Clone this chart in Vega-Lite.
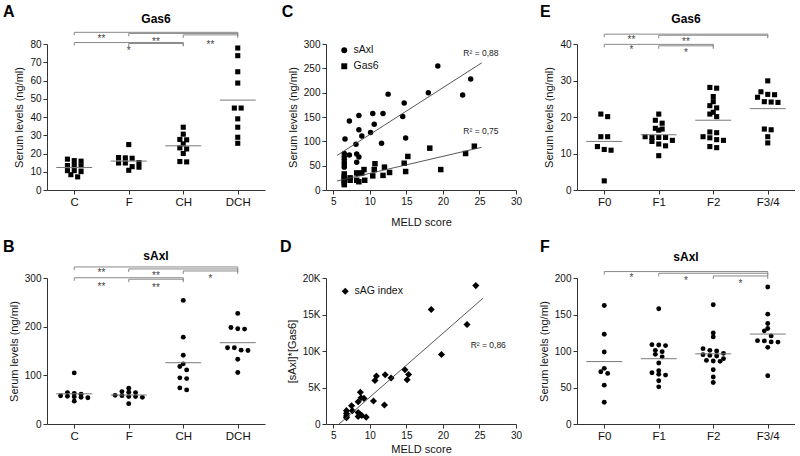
{
  "$schema": "https://vega.github.io/schema/vega-lite/v6.json",
  "autosize": {"type": "pad"},
  "padding": {"left": 3, "top": 3, "right": 0, "bottom": 0},
  "datasets": {
    "gA": [
      {"g": "C", "v": 16.9}, {"g": "C", "v": 16.1}, {"g": "C", "v": 15.8}, {"g": "C", "v": 13.4}, {"g": "C", "v": 13.2}, {"g": "C", "v": 13.4}, {"g": "C", "v": 10.1}, {"g": "C", "v": 10.6}, {"g": "C", "v": 10.6}, {"g": "C", "v": 8.4}, {"g": "C", "v": 7.2},
      {"g": "F", "v": 24.9}, {"g": "F", "v": 17.4}, {"g": "F", "v": 17.6}, {"g": "F", "v": 17.8}, {"g": "F", "v": 14.8}, {"g": "F", "v": 14.8}, {"g": "F", "v": 15.0}, {"g": "F", "v": 12.8}, {"g": "F", "v": 12.5}, {"g": "F", "v": 10.8},
      {"g": "CH", "v": 34.4}, {"g": "CH", "v": 30.6}, {"g": "CH", "v": 27.5}, {"g": "CH", "v": 27.7}, {"g": "CH", "v": 25.3}, {"g": "CH", "v": 22.5}, {"g": "CH", "v": 23.1}, {"g": "CH", "v": 20.0}, {"g": "CH", "v": 15.4}, {"g": "CH", "v": 15.6},
      {"g": "DCH", "v": 77.8}, {"g": "DCH", "v": 73.6}, {"g": "DCH", "v": 64.8}, {"g": "DCH", "v": 58.6}, {"g": "DCH", "v": 44.9}, {"g": "DCH", "v": 44.9}, {"g": "DCH", "v": 39.0}, {"g": "DCH", "v": 34.4}, {"g": "DCH", "v": 28.9}, {"g": "DCH", "v": 25.6}
    ],
    "sB": [
      {"g": "C", "v": 105}, {"g": "C", "v": 64.5}, {"g": "C", "v": 63}, {"g": "C", "v": 61}, {"g": "C", "v": 57}, {"g": "C", "v": 55}, {"g": "C", "v": 54}, {"g": "C", "v": 56}, {"g": "C", "v": 58}, {"g": "C", "v": 47},
      {"g": "F", "v": 73.4}, {"g": "F", "v": 64.5}, {"g": "F", "v": 65.1}, {"g": "F", "v": 66.6}, {"g": "F", "v": 58.3}, {"g": "F", "v": 56.3}, {"g": "F", "v": 54.8}, {"g": "F", "v": 56.3}, {"g": "F", "v": 58.9}, {"g": "F", "v": 41.8},
      {"g": "CH", "v": 254}, {"g": "CH", "v": 178.5}, {"g": "CH", "v": 141.4}, {"g": "CH", "v": 123.6}, {"g": "CH", "v": 118}, {"g": "CH", "v": 111.2}, {"g": "CH", "v": 94.8}, {"g": "CH", "v": 93.3}, {"g": "CH", "v": 74.2}, {"g": "CH", "v": 70.1},
      {"g": "DCH", "v": 227.3}, {"g": "DCH", "v": 195.7}, {"g": "DCH", "v": 195}, {"g": "DCH", "v": 198.4}, {"g": "DCH", "v": 156.6}, {"g": "DCH", "v": 151}, {"g": "DCH", "v": 151.7}, {"g": "DCH", "v": 156.6}, {"g": "DCH", "v": 133.1}, {"g": "DCH", "v": 105.7}
    ],
    "gE": [
      {"g": "F0", "v": 20.8}, {"g": "F0", "v": 20.1}, {"g": "F0", "v": 14.6}, {"g": "F0", "v": 14.6}, {"g": "F0", "v": 11.1}, {"g": "F0", "v": 10.9}, {"g": "F0", "v": 11.9}, {"g": "F0", "v": 2.5},
      {"g": "F1", "v": 20.8}, {"g": "F1", "v": 18.3}, {"g": "F1", "v": 19.1}, {"g": "F1", "v": 16.7}, {"g": "F1", "v": 16.4}, {"g": "F1", "v": 16.9}, {"g": "F1", "v": 13.6}, {"g": "F1", "v": 14.4}, {"g": "F1", "v": 14.4}, {"g": "F1", "v": 14.4}, {"g": "F1", "v": 14.6}, {"g": "F1", "v": 12.6}, {"g": "F1", "v": 12.1}, {"g": "F1", "v": 13.3}, {"g": "F1", "v": 9.4},
      {"g": "F2", "v": 27.9}, {"g": "F2", "v": 28.1}, {"g": "F2", "v": 25.6}, {"g": "F2", "v": 24.2}, {"g": "F2", "v": 22.5}, {"g": "F2", "v": 23.1}, {"g": "F2", "v": 20.8}, {"g": "F2", "v": 20.1}, {"g": "F2", "v": 21.3}, {"g": "F2", "v": 14.6}, {"g": "F2", "v": 13.8}, {"g": "F2", "v": 13.6}, {"g": "F2", "v": 14.3}, {"g": "F2", "v": 15.7}, {"g": "F2", "v": 15.9}, {"g": "F2", "v": 11.6}, {"g": "F2", "v": 11.9},
      {"g": "F3/4", "v": 29.9}, {"g": "F3/4", "v": 26.2}, {"g": "F3/4", "v": 26.1}, {"g": "F3/4", "v": 26.9}, {"g": "F3/4", "v": 24.2}, {"g": "F3/4", "v": 24.1}, {"g": "F3/4", "v": 24.0}, {"g": "F3/4", "v": 25.4}, {"g": "F3/4", "v": 16.7}, {"g": "F3/4", "v": 16.5}, {"g": "F3/4", "v": 14.6}, {"g": "F3/4", "v": 12.9}
    ],
    "sF": [
      {"g": "F0", "v": 162.4}, {"g": "F0", "v": 123}, {"g": "F0", "v": 98.6}, {"g": "F0", "v": 76.2}, {"g": "F0", "v": 69.3}, {"g": "F0", "v": 71.6}, {"g": "F0", "v": 53.2}, {"g": "F0", "v": 29.8},
      {"g": "F1", "v": 157.8}, {"g": "F1", "v": 108.7}, {"g": "F1", "v": 107.4}, {"g": "F1", "v": 108.3}, {"g": "F1", "v": 99.1}, {"g": "F1", "v": 95.4}, {"g": "F1", "v": 100.9}, {"g": "F1", "v": 92}, {"g": "F1", "v": 83.5}, {"g": "F1", "v": 73}, {"g": "F1", "v": 70.2}, {"g": "F1", "v": 67}, {"g": "F1", "v": 68}, {"g": "F1", "v": 59.2}, {"g": "F1", "v": 50.9},
      {"g": "F2", "v": 163.4}, {"g": "F2", "v": 124.8}, {"g": "F2", "v": 119.3}, {"g": "F2", "v": 103.2}, {"g": "F2", "v": 100}, {"g": "F2", "v": 96.8}, {"g": "F2", "v": 100.9}, {"g": "F2", "v": 93.2}, {"g": "F2", "v": 94}, {"g": "F2", "v": 95}, {"g": "F2", "v": 89.5}, {"g": "F2", "v": 87.1}, {"g": "F2", "v": 85.8}, {"g": "F2", "v": 86.3}, {"g": "F2", "v": 74.3}, {"g": "F2", "v": 64.3}, {"g": "F2", "v": 56.8},
      {"g": "F3/4", "v": 187.6}, {"g": "F3/4", "v": 150.5}, {"g": "F3/4", "v": 137.6}, {"g": "F3/4", "v": 130.8}, {"g": "F3/4", "v": 127.6}, {"g": "F3/4", "v": 120.7}, {"g": "F3/4", "v": 113.8}, {"g": "F3/4", "v": 112.2}, {"g": "F3/4", "v": 114.2}, {"g": "F3/4", "v": 112.5}, {"g": "F3/4", "v": 105}, {"g": "F3/4", "v": 66.1}
    ],
    "meld": [
      {"series": "sAxl", "meld": 6.6, "value": 105}, {"series": "sAxl", "meld": 7.2, "value": 142}, {"series": "sAxl", "meld": 8.5, "value": 153}, {"series": "sAxl", "meld": 8.5, "value": 124}, {"series": "sAxl", "meld": 8.9, "value": 111}, {"series": "sAxl", "meld": 8.1, "value": 94}, {"series": "sAxl", "meld": 10.4, "value": 157}, {"series": "sAxl", "meld": 11.8, "value": 157}, {"series": "sAxl", "meld": 10.6, "value": 135}, {"series": "sAxl", "meld": 10.1, "value": 118}, {"series": "sAxl", "meld": 12.5, "value": 197}, {"series": "sAxl", "meld": 14.7, "value": 179}, {"series": "sAxl", "meld": 14.5, "value": 151}, {"series": "sAxl", "meld": 14.9, "value": 107}, {"series": "sAxl", "meld": 11.6, "value": 96}, {"series": "sAxl", "meld": 18.0, "value": 200}, {"series": "sAxl", "meld": 19.3, "value": 255}, {"series": "sAxl", "meld": 22.7, "value": 195}, {"series": "sAxl", "meld": 23.8, "value": 228}, {"series": "sAxl", "meld": 6.5, "value": 75}, {"series": "sAxl", "meld": 6.5, "value": 69}, {"series": "sAxl", "meld": 6.5, "value": 63}, {"series": "sAxl", "meld": 6.5, "value": 57}, {"series": "sAxl", "meld": 6.5, "value": 52}, {"series": "sAxl", "meld": 6.5, "value": 47}, {"series": "sAxl", "meld": 7.2, "value": 72}, {"series": "sAxl", "meld": 8.2, "value": 74}, {"series": "sAxl", "meld": 8.5, "value": 68}, {"series": "sAxl", "meld": 8.2, "value": 57},
      {"series": "Gas6", "meld": 7.3, "value": 25}, {"series": "Gas6", "meld": 7.3, "value": 20}, {"series": "Gas6", "meld": 8.2, "value": 35}, {"series": "Gas6", "meld": 8.5, "value": 34}, {"series": "Gas6", "meld": 8.9, "value": 35}, {"series": "Gas6", "meld": 8.2, "value": 20}, {"series": "Gas6", "meld": 8.5, "value": 17}, {"series": "Gas6", "meld": 9.3, "value": 20}, {"series": "Gas6", "meld": 9.2, "value": 42}, {"series": "Gas6", "meld": 10.7, "value": 54}, {"series": "Gas6", "meld": 10.6, "value": 42}, {"series": "Gas6", "meld": 10.4, "value": 29}, {"series": "Gas6", "meld": 12.0, "value": 47}, {"series": "Gas6", "meld": 11.8, "value": 30}, {"series": "Gas6", "meld": 12.7, "value": 36}, {"series": "Gas6", "meld": 14.7, "value": 55}, {"series": "Gas6", "meld": 15.2, "value": 69}, {"series": "Gas6", "meld": 14.9, "value": 38}, {"series": "Gas6", "meld": 18.2, "value": 86}, {"series": "Gas6", "meld": 19.7, "value": 42}, {"series": "Gas6", "meld": 23.1, "value": 75}, {"series": "Gas6", "meld": 24.3, "value": 90}, {"series": "Gas6", "meld": 6.5, "value": 33}, {"series": "Gas6", "meld": 6.5, "value": 28}, {"series": "Gas6", "meld": 6.5, "value": 24}, {"series": "Gas6", "meld": 6.5, "value": 20}, {"series": "Gas6", "meld": 6.5, "value": 15}, {"series": "Gas6", "meld": 6.5, "value": 11}
    ],
    "sag": [
      {"meld": 24.5, "idx": 18960}, {"meld": 18.4, "idx": 15680}, {"meld": 23.3, "idx": 13620}, {"meld": 19.8, "idx": 9520}, {"meld": 14.8, "idx": 7420}, {"meld": 15.3, "idx": 6780}, {"meld": 15.1, "idx": 6070}, {"meld": 12.1, "idx": 6740}, {"meld": 12.9, "idx": 6290}, {"meld": 10.9, "idx": 6560}, {"meld": 10.7, "idx": 5970}, {"meld": 10.5, "idx": 3140}, {"meld": 12.0, "idx": 2600}, {"meld": 8.7, "idx": 4360}, {"meld": 8.4, "idx": 3050}, {"meld": 9.2, "idx": 3510}, {"meld": 8.8, "idx": 3590}, {"meld": 7.5, "idx": 2510}, {"meld": 6.8, "idx": 1830}, {"meld": 6.8, "idx": 1430}, {"meld": 6.8, "idx": 1080}, {"meld": 6.8, "idx": 850}, {"meld": 7.6, "idx": 1830}, {"meld": 8.4, "idx": 1560}, {"meld": 8.7, "idx": 1290}, {"meld": 8.9, "idx": 1160}, {"meld": 8.4, "idx": 1030}, {"meld": 9.5, "idx": 940}
    ],
    "brA": [{"a": 1, "b": 4, "y": 86.4}, {"a": 2, "b": 4, "y": 85.8}, {"a": 3, "b": 4, "y": 85.0}, {"a": 1, "b": 3, "y": 80.8}, {"a": 2, "b": 3, "y": 80.3}],
    "lbA": [{"x": 1.5, "y": 81.1, "t": "**"}, {"x": 2.5, "y": 79.6, "t": "**"}, {"x": 3.5, "y": 77.8, "t": "**"}, {"x": 2.0, "y": 74.7, "t": "*"}],
    "brB": [{"a": 1, "b": 4, "y": 322.7}, {"a": 2, "b": 4, "y": 318.6}, {"a": 3, "b": 4, "y": 314.5}, {"a": 1, "b": 3, "y": 300.5}, {"a": 2, "b": 3, "y": 297.5}],
    "lbB": [{"x": 1.5, "y": 304.8, "t": "**"}, {"x": 2.5, "y": 298, "t": "**"}, {"x": 3.5, "y": 291, "t": "*"}, {"x": 1.5, "y": 275.3, "t": "**"}, {"x": 2.5, "y": 273.9, "t": "**"}],
    "brE": [{"a": 1, "b": 4, "y": 42.7}, {"a": 2, "b": 4, "y": 42.4}, {"a": 1, "b": 3, "y": 39.9}, {"a": 2, "b": 3, "y": 39.5}],
    "lbE": [{"x": 1.5, "y": 40.4, "t": "**"}, {"x": 2.5, "y": 39.6, "t": "**"}, {"x": 1.5, "y": 37.5, "t": "*"}, {"x": 2.5, "y": 36.8, "t": "*"}],
    "brF": [{"a": 1, "b": 4, "y": 208.8}, {"a": 2, "b": 4, "y": 206.5}, {"a": 3, "b": 4, "y": 202.8}],
    "lbF": [{"x": 1.5, "y": 195.3, "t": "*"}, {"x": 2.5, "y": 192.2, "t": "*"}, {"x": 3.5, "y": 187.6, "t": "*"}],
    "r2C": [{"x": 25.2, "y": 281, "t": "R² = 0,88"}, {"x": 25.2, "y": 121, "t": "R² = 0,75"}],
    "r2D": [{"x": 26.2, "y": 10870, "t": "R² = 0,86"}]
  },
  "concat": [
    {
      "width": 218, "height": 146,
      "layer": [
        {"data": {"name": "gA"},
         "transform": [
           {"calculate": "indexof(['C','F','CH','DCH'], datum.g) + 1", "as": "gi"},
           {"bin": {"step": 3}, "field": "v", "as": "vb"},
           {"window": [{"op": "row_number", "as": "r"}, {"op": "count", "as": "n"}], "groupby": ["gi", "vb"], "sort": [{"field": "v", "order": "descending"}], "frame": [null, null]},
           {"calculate": "datum.gi + (datum.r - (datum.n + 1) / 2) * 0.125", "as": "xp"}
         ],
         "mark": {"type": "square", "size": 26, "color": "#000", "opacity": 1},
         "encoding": {
           "x": {"field": "xp", "type": "quantitative", "scale": {"domain": [0.5, 4.5], "nice": false, "zero": false}, "axis": {"values": [1, 2, 3, 4], "tickCount": 20, "labelExpr": "['C','F','CH','DCH'][datum.value - 1]", "title": null, "labelFontSize": 11.5, "labelOverlap": false}},
           "y": {"field": "v", "type": "quantitative", "scale": {"domain": [0, 80], "nice": false}, "axis": {"values": [0, 10, 20, 30, 40, 50, 60, 70, 80], "tickCount": 20, "labelOverlap": false, "title": "Serum levels (ng/ml)"}}
         }},
        {"data": {"name": "gA"},
         "transform": [
           {"calculate": "indexof(['C','F','CH','DCH'], datum.g) + 1", "as": "gi"},
           {"aggregate": [{"op": "mean", "field": "v", "as": "m"}], "groupby": ["gi"]},
           {"calculate": "datum.gi - 0.33", "as": "xl"},
           {"calculate": "datum.gi + 0.33", "as": "xr"}
         ],
         "mark": {"type": "rule", "color": "#7a7a7a", "strokeWidth": 1},
         "encoding": {"x": {"field": "xl", "type": "quantitative"}, "x2": {"field": "xr"}, "y": {"field": "m", "type": "quantitative"}}},
        {"data": {"name": "brA"}, "mark": {"type": "rule", "color": "#888", "strokeWidth": 1},
         "encoding": {"x": {"field": "a", "type": "quantitative"}, "x2": {"field": "b"}, "y": {"field": "y", "type": "quantitative"}}},
        {"data": {"name": "brA"}, "transform": [{"fold": ["a", "b"], "as": ["k", "xv"]}],
         "mark": {"type": "rule", "color": "#888", "strokeWidth": 1, "y2Offset": 3},
         "encoding": {"x": {"field": "xv", "type": "quantitative"}, "y": {"field": "y", "type": "quantitative"}, "y2": {"field": "y"}}},
        {"data": {"name": "lbA"}, "mark": {"type": "text", "fontSize": 10, "color": "#444", "baseline": "alphabetic"},
         "encoding": {"x": {"field": "x", "type": "quantitative"}, "y": {"field": "y", "type": "quantitative"}, "text": {"field": "t"}}},
        {"data": {"values": [{}]}, "mark": {"type": "text", "fontSize": 16, "fontWeight": "bold", "align": "left", "baseline": "alphabetic"},
         "encoding": {"x": {"datum": -0.307}, "y": {"datum": 95.0}, "text": {"value": "A"}}},
        {"data": {"values": [{}]}, "mark": {"type": "text", "fontSize": 12, "fontWeight": "bold", "baseline": "alphabetic"},
         "encoding": {"x": {"datum": 2.5}, "y": {"datum": 91.5}, "text": {"value": "Gas6"}}}
      ]
    },
    {
      "width": 190, "height": 146,
      "layer": [
        {"data": {"name": "meld"},
         "mark": {"type": "point", "filled": true, "size": 30, "color": "#000", "opacity": 1},
         "encoding": {
           "x": {"field": "meld", "type": "quantitative", "scale": {"domain": [4, 30], "nice": false, "zero": false}, "axis": {"values": [5, 10, 15, 20, 25, 30], "tickCount": 20, "labelOverlap": false, "title": "MELD score", "titlePadding": 10}},
           "y": {"field": "value", "type": "quantitative", "scale": {"domain": [0, 300], "nice": false}, "axis": {"values": [0, 50, 100, 150, 200, 250, 300], "tickCount": 20, "labelOverlap": false, "title": "Serum levels (ng/ml)"}},
           "shape": {"field": "series", "type": "nominal", "scale": {"domain": ["sAxl", "Gas6"], "range": ["circle", "square"]},
                     "legend": {"title": null, "orient": "none", "legendX": 13, "legendY": 1, "labelFontSize": 10.5, "symbolFillColor": "#000", "symbolStrokeColor": "#000", "symbolSize": 35, "rowPadding": 3, "padding": 0}}
         }},
        {"data": {"name": "meld"},
         "transform": [{"regression": "value", "on": "meld", "groupby": ["series"], "extent": [5.5, 25.3]}],
         "mark": {"type": "line", "color": "#444", "strokeWidth": 0.9},
         "encoding": {"x": {"field": "meld", "type": "quantitative"}, "y": {"field": "value", "type": "quantitative"}, "detail": {"field": "series"}}},
        {"data": {"name": "r2C"}, "mark": {"type": "text", "fontSize": 8.5, "color": "#222"},
         "encoding": {"x": {"field": "x", "type": "quantitative"}, "y": {"field": "y", "type": "quantitative"}, "text": {"field": "t"}}},
        {"data": {"values": [{}]}, "mark": {"type": "text", "fontSize": 16, "fontWeight": "bold", "align": "left", "baseline": "alphabetic"},
         "encoding": {"x": {"datum": -2.06}, "y": {"datum": 356.1}, "text": {"value": "C"}}}
      ]
    },
    {
      "width": 218, "height": 146,
      "layer": [
        {"data": {"name": "gE"},
         "transform": [
           {"calculate": "indexof(['F0','F1','F2','F3/4'], datum.g) + 1", "as": "gi"},
           {"bin": {"step": 1.5}, "field": "v", "as": "vb"},
           {"window": [{"op": "row_number", "as": "r"}, {"op": "count", "as": "n"}], "groupby": ["gi", "vb"], "sort": [{"field": "v", "order": "descending"}], "frame": [null, null]},
           {"calculate": "datum.gi + (datum.r - (datum.n + 1) / 2) * 0.125", "as": "xp"}
         ],
         "mark": {"type": "square", "size": 26, "color": "#000", "opacity": 1},
         "encoding": {
           "x": {"field": "xp", "type": "quantitative", "scale": {"domain": [0.5, 4.5], "nice": false, "zero": false}, "axis": {"values": [1, 2, 3, 4], "tickCount": 20, "labelExpr": "['F0','F1','F2','F3/4'][datum.value - 1]", "title": null, "labelFontSize": 11.5, "labelOverlap": false}},
           "y": {"field": "v", "type": "quantitative", "scale": {"domain": [0, 40], "nice": false}, "axis": {"values": [0, 10, 20, 30, 40], "tickCount": 20, "labelOverlap": false, "title": "Serum levels (ng/ml)"}}
         }},
        {"data": {"name": "gE"},
         "transform": [
           {"calculate": "indexof(['F0','F1','F2','F3/4'], datum.g) + 1", "as": "gi"},
           {"aggregate": [{"op": "mean", "field": "v", "as": "m"}], "groupby": ["gi"]},
           {"calculate": "datum.gi - 0.33", "as": "xl"},
           {"calculate": "datum.gi + 0.33", "as": "xr"}
         ],
         "mark": {"type": "rule", "color": "#7a7a7a", "strokeWidth": 1},
         "encoding": {"x": {"field": "xl", "type": "quantitative"}, "x2": {"field": "xr"}, "y": {"field": "m", "type": "quantitative"}}},
        {"data": {"name": "brE"}, "mark": {"type": "rule", "color": "#888", "strokeWidth": 1},
         "encoding": {"x": {"field": "a", "type": "quantitative"}, "x2": {"field": "b"}, "y": {"field": "y", "type": "quantitative"}}},
        {"data": {"name": "brE"}, "transform": [{"fold": ["a", "b"], "as": ["k", "xv"]}],
         "mark": {"type": "rule", "color": "#888", "strokeWidth": 1, "y2Offset": 3},
         "encoding": {"x": {"field": "xv", "type": "quantitative"}, "y": {"field": "y", "type": "quantitative"}, "y2": {"field": "y"}}},
        {"data": {"name": "lbE"}, "mark": {"type": "text", "fontSize": 10, "color": "#444", "baseline": "alphabetic"},
         "encoding": {"x": {"field": "x", "type": "quantitative"}, "y": {"field": "y", "type": "quantitative"}, "text": {"field": "t"}}},
        {"data": {"values": [{}]}, "mark": {"type": "text", "fontSize": 16, "fontWeight": "bold", "align": "left", "baseline": "alphabetic"},
         "encoding": {"x": {"datum": -0.18}, "y": {"datum": 47.5}, "text": {"value": "E"}}},
        {"data": {"values": [{}]}, "mark": {"type": "text", "fontSize": 12, "fontWeight": "bold", "baseline": "alphabetic"},
         "encoding": {"x": {"datum": 2.5}, "y": {"datum": 45.75}, "text": {"value": "Gas6"}}}
      ]
    },
    {
      "width": 218, "height": 146,
      "layer": [
        {"data": {"name": "sB"},
         "transform": [
           {"calculate": "indexof(['C','F','CH','DCH'], datum.g) + 1", "as": "gi"},
           {"bin": {"step": 10}, "field": "v", "as": "vb"},
           {"window": [{"op": "row_number", "as": "r"}, {"op": "count", "as": "n"}], "groupby": ["gi", "vb"], "sort": [{"field": "v", "order": "descending"}], "frame": [null, null]},
           {"calculate": "datum.gi + (datum.r - (datum.n + 1) / 2) * 0.125", "as": "xp"}
         ],
         "mark": {"type": "circle", "size": 24, "color": "#000", "opacity": 1},
         "encoding": {
           "x": {"field": "xp", "type": "quantitative", "scale": {"domain": [0.5, 4.5], "nice": false, "zero": false}, "axis": {"values": [1, 2, 3, 4], "tickCount": 20, "labelExpr": "['C','F','CH','DCH'][datum.value - 1]", "title": null, "labelFontSize": 11.5, "labelOverlap": false}},
           "y": {"field": "v", "type": "quantitative", "scale": {"domain": [0, 300], "nice": false}, "axis": {"values": [0, 100, 200, 300], "tickCount": 20, "labelOverlap": false, "title": "Serum levels (ng/ml)"}}
         }},
        {"data": {"name": "sB"},
         "transform": [
           {"calculate": "indexof(['C','F','CH','DCH'], datum.g) + 1", "as": "gi"},
           {"aggregate": [{"op": "mean", "field": "v", "as": "m"}], "groupby": ["gi"]},
           {"calculate": "datum.gi - 0.33", "as": "xl"},
           {"calculate": "datum.gi + 0.33", "as": "xr"}
         ],
         "mark": {"type": "rule", "color": "#7a7a7a", "strokeWidth": 1},
         "encoding": {"x": {"field": "xl", "type": "quantitative"}, "x2": {"field": "xr"}, "y": {"field": "m", "type": "quantitative"}}},
        {"data": {"name": "brB"}, "mark": {"type": "rule", "color": "#888", "strokeWidth": 1},
         "encoding": {"x": {"field": "a", "type": "quantitative"}, "x2": {"field": "b"}, "y": {"field": "y", "type": "quantitative"}}},
        {"data": {"name": "brB"}, "transform": [{"fold": ["a", "b"], "as": ["k", "xv"]}],
         "mark": {"type": "rule", "color": "#888", "strokeWidth": 1, "y2Offset": 3},
         "encoding": {"x": {"field": "xv", "type": "quantitative"}, "y": {"field": "y", "type": "quantitative"}, "y2": {"field": "y"}}},
        {"data": {"name": "lbB"}, "mark": {"type": "text", "fontSize": 10, "color": "#444", "baseline": "alphabetic"},
         "encoding": {"x": {"field": "x", "type": "quantitative"}, "y": {"field": "y", "type": "quantitative"}, "text": {"field": "t"}}},
        {"data": {"values": [{}]}, "mark": {"type": "text", "fontSize": 16, "fontWeight": "bold", "align": "left", "baseline": "alphabetic"},
         "encoding": {"x": {"datum": -0.307}, "y": {"datum": 354.4}, "text": {"value": "B"}}},
        {"data": {"values": [{}]}, "mark": {"type": "text", "fontSize": 12, "fontWeight": "bold", "baseline": "alphabetic"},
         "encoding": {"x": {"datum": 2.5}, "y": {"datum": 338}, "text": {"value": "sAxl"}}}
      ]
    },
    {
      "width": 190, "height": 146,
      "layer": [
        {"data": {"name": "sag"},
         "transform": [{"calculate": "'sAG index'", "as": "series"}],
         "mark": {"type": "point", "filled": true, "size": 50, "color": "#000", "opacity": 1},
         "encoding": {
           "x": {"field": "meld", "type": "quantitative", "scale": {"domain": [4, 30], "nice": false, "zero": false}, "axis": {"values": [5, 10, 15, 20, 25, 30], "tickCount": 20, "labelOverlap": false, "title": "MELD score", "titlePadding": 3}},
           "y": {"field": "idx", "type": "quantitative", "scale": {"domain": [0, 20000], "nice": false}, "axis": {"values": [0, 5000, 10000, 15000, 20000], "tickCount": 20, "labelOverlap": false, "labelExpr": "datum.value == 0 ? '0' : (datum.value / 1000) + 'K'", "title": "[sAxl]*[Gas6]"}},
           "shape": {"field": "series", "type": "nominal", "scale": {"domain": ["sAG index"], "range": ["diamond"]},
                     "legend": {"title": null, "orient": "none", "legendX": 14, "legendY": 8, "labelFontSize": 10.5, "symbolFillColor": "#000", "symbolStrokeColor": "#000", "symbolSize": 50, "padding": 0}}
         }},
        {"data": {"name": "sag"},
         "transform": [{"regression": "idx", "on": "meld", "extent": [5.7, 25.5]}],
         "mark": {"type": "line", "color": "#444", "strokeWidth": 0.9},
         "encoding": {"x": {"field": "meld", "type": "quantitative"}, "y": {"field": "idx", "type": "quantitative"}}},
        {"data": {"name": "r2D"}, "mark": {"type": "text", "fontSize": 8.5, "color": "#222"},
         "encoding": {"x": {"field": "x", "type": "quantitative"}, "y": {"field": "y", "type": "quantitative"}, "text": {"field": "t"}}},
        {"data": {"values": [{}]}, "mark": {"type": "text", "fontSize": 16, "fontWeight": "bold", "align": "left", "baseline": "alphabetic"},
         "encoding": {"x": {"datum": -2.29}, "y": {"datum": 23630}, "text": {"value": "D"}}}
      ]
    },
    {
      "width": 218, "height": 146,
      "layer": [
        {"data": {"name": "sF"},
         "transform": [
           {"calculate": "indexof(['F0','F1','F2','F3/4'], datum.g) + 1", "as": "gi"},
           {"bin": {"step": 8}, "field": "v", "as": "vb"},
           {"window": [{"op": "row_number", "as": "r"}, {"op": "count", "as": "n"}], "groupby": ["gi", "vb"], "sort": [{"field": "v", "order": "descending"}], "frame": [null, null]},
           {"calculate": "datum.gi + (datum.r - (datum.n + 1) / 2) * 0.125", "as": "xp"}
         ],
         "mark": {"type": "circle", "size": 24, "color": "#000", "opacity": 1},
         "encoding": {
           "x": {"field": "xp", "type": "quantitative", "scale": {"domain": [0.5, 4.5], "nice": false, "zero": false}, "axis": {"values": [1, 2, 3, 4], "tickCount": 20, "labelExpr": "['F0','F1','F2','F3/4'][datum.value - 1]", "title": null, "labelFontSize": 11.5, "labelOverlap": false}},
           "y": {"field": "v", "type": "quantitative", "scale": {"domain": [0, 200], "nice": false}, "axis": {"values": [0, 50, 100, 150, 200], "tickCount": 20, "labelOverlap": false, "title": "Serum levels (ng/ml)"}}
         }},
        {"data": {"name": "sF"},
         "transform": [
           {"calculate": "indexof(['F0','F1','F2','F3/4'], datum.g) + 1", "as": "gi"},
           {"aggregate": [{"op": "mean", "field": "v", "as": "m"}], "groupby": ["gi"]},
           {"calculate": "datum.gi - 0.33", "as": "xl"},
           {"calculate": "datum.gi + 0.33", "as": "xr"}
         ],
         "mark": {"type": "rule", "color": "#7a7a7a", "strokeWidth": 1},
         "encoding": {"x": {"field": "xl", "type": "quantitative"}, "x2": {"field": "xr"}, "y": {"field": "m", "type": "quantitative"}}},
        {"data": {"name": "brF"}, "mark": {"type": "rule", "color": "#888", "strokeWidth": 1},
         "encoding": {"x": {"field": "a", "type": "quantitative"}, "x2": {"field": "b"}, "y": {"field": "y", "type": "quantitative"}}},
        {"data": {"name": "brF"}, "transform": [{"fold": ["a", "b"], "as": ["k", "xv"]}],
         "mark": {"type": "rule", "color": "#888", "strokeWidth": 1, "y2Offset": 3},
         "encoding": {"x": {"field": "xv", "type": "quantitative"}, "y": {"field": "y", "type": "quantitative"}, "y2": {"field": "y"}}},
        {"data": {"name": "lbF"}, "mark": {"type": "text", "fontSize": 10, "color": "#444", "baseline": "alphabetic"},
         "encoding": {"x": {"field": "x", "type": "quantitative"}, "y": {"field": "y", "type": "quantitative"}, "text": {"field": "t"}}},
        {"data": {"values": [{}]}, "mark": {"type": "text", "fontSize": 16, "fontWeight": "bold", "align": "left", "baseline": "alphabetic"},
         "encoding": {"x": {"datum": -0.18}, "y": {"datum": 236.3}, "text": {"value": "F"}}},
        {"data": {"values": [{}]}, "mark": {"type": "text", "fontSize": 12, "fontWeight": "bold", "baseline": "alphabetic"},
         "encoding": {"x": {"datum": 2.5}, "y": {"datum": 223}, "text": {"value": "sAxl"}}}
      ]
    }
  ],
  "columns": 3,
  "bounds": "flush",
  "align": "each",
  "spacing": {"row": 88, "column": 61},
  "resolve": {"scale": {"shape": "independent"}, "legend": {"shape": "independent"}},
  "config": {
    "font": "Liberation Sans",
    "view": {"stroke": null},
    "axis": {"grid": false, "domainColor": "#333", "tickColor": "#333", "tickSize": 4, "labelColor": "#111", "titleColor": "#111", "labelFontSize": 10, "titleFontSize": 11, "titleFontWeight": "normal", "labelPadding": 2, "titlePadding": 5, "labelFlush": false, "labelOverlap": false},
    "legend": {"labelColor": "#111"}
  }
}
